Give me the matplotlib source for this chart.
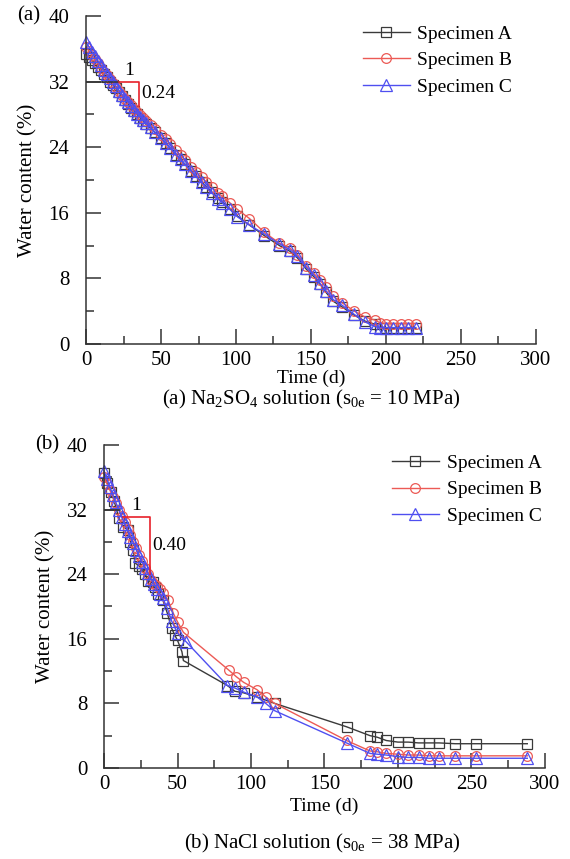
import matplotlib
matplotlib.use("Agg")
import matplotlib.pyplot as plt
from matplotlib.ticker import MultipleLocator

plt.rcParams["font.family"] = ["Liberation Serif", "DejaVu Serif"]
plt.rcParams["mathtext.fontset"] = "custom"
plt.rcParams["mathtext.rm"] = "Liberation Serif"
plt.rcParams["mathtext.it"] = "Liberation Serif:italic"

# (a) Na2SO4 solution
t_a = [0, 2, 4, 6, 8, 10, 12, 14, 16, 18, 20, 22, 24, 26, 28, 30, 32, 34, 36, 38,
       40, 43, 46, 50, 53, 56, 60, 63, 66, 70, 73, 77, 80, 84, 88, 91, 96, 101, 109,
       119, 129, 136, 141, 147, 152, 156, 160, 165, 171, 179, 186, 193, 196, 200,
       205, 210, 215, 220]
wA_a = [35.3, 35.0, 34.6, 34.2, 33.8, 33.4, 32.9, 32.5, 32.0, 31.6, 31.2, 30.7, 30.2,
        29.7, 29.3, 28.8, 28.4, 28.0, 27.6, 27.2, 26.8, 26.3, 25.8, 25.1, 24.5, 23.9,
        23.1, 22.5, 21.9, 21.1, 20.5, 19.8, 19.2, 18.5, 17.8, 17.3, 16.5, 15.6, 14.5,
        13.2, 12.0, 11.3, 10.5, 9.1, 8.2, 7.3, 6.3, 5.2, 4.5, 3.5, 2.8, 2.4, 2.0, 1.9,
        1.9, 1.9, 1.9, 1.9]
wB_a = [36.2, 35.7, 35.2, 34.7, 34.2, 33.7, 33.2, 32.8, 32.3, 31.8, 31.3, 30.8, 30.4,
        29.9, 29.5, 29.1, 28.7, 28.3, 27.9, 27.5, 27.2, 26.7, 26.2, 25.5, 25.0, 24.4,
        23.6, 23.0, 22.4, 21.6, 21.0, 20.3, 19.8, 19.1, 18.4, 18.0, 17.2, 16.4, 15.3,
        13.6, 12.3, 11.7, 10.9, 9.5, 8.6, 7.8, 6.9, 5.8, 5.0, 4.0, 3.3, 2.9, 2.6, 2.5,
        2.5, 2.5, 2.5, 2.5]
wC_a = [36.8, 36.2, 35.6, 35.1, 34.5, 34.0, 33.4, 32.9, 32.4, 31.9, 31.4, 30.9, 30.4,
        29.9, 29.5, 29.0, 28.5, 28.1, 27.7, 27.3, 26.9, 26.4, 25.8, 25.1, 24.5, 23.9,
        23.1, 22.5, 21.9, 21.1, 20.5, 19.7, 19.1, 18.4, 17.7, 17.2, 16.4, 15.5, 14.5,
        13.4, 12.2, 11.5, 10.7, 9.3, 8.4, 7.4, 6.5, 5.4, 4.7, 3.6, 2.7, 2.1, 2.0, 2.0,
        2.0, 2.0, 2.0, 2.0]

# (b) NaCl solution
tA_b = [0, 2, 5, 7, 10, 13, 16, 18, 20, 21, 24, 26, 28, 30, 33, 35, 37, 40, 43, 46,
        48, 50, 53, 54, 84, 89, 95, 104, 116, 165, 181, 186, 192, 200, 207, 214, 221,
        228, 239, 253, 288]
wA_b = [36.5, 35.3, 34.2, 33.0, 31.0, 29.9, 29.5, 28.0, 27.0, 25.4, 25.0, 24.6, 24.0,
        23.2, 23.0, 22.4, 21.5, 20.8, 19.2, 17.3, 16.5, 15.8, 14.4, 13.3, 10.2, 9.5,
        9.3, 8.8, 8.0, 5.1, 4.0, 3.8, 3.4, 3.2, 3.2, 3.1, 3.1, 3.1, 3.0, 3.0, 3.0]
tB_b = [0, 2, 4, 6, 8, 10, 12, 14, 16, 18, 20, 22, 24, 26, 28, 30, 32, 34, 36, 38, 40,
        43.5, 47, 50, 54, 85, 90, 95, 104, 110, 116, 165, 181, 186, 192, 200, 207, 214,
        221, 228, 239, 253, 288]
wB_b = [36.0, 35.2, 34.4, 33.6, 32.8, 32.0, 31.2, 30.4, 29.6, 28.8, 28.0, 27.2, 26.4,
        25.6, 24.8, 24.0, 23.3, 22.8, 22.5, 22.1, 21.7, 20.8, 19.2, 18.1, 16.8, 12.1,
        11.3, 10.6, 9.7, 8.8, 8.0, 3.4, 2.1, 2.0, 1.8, 1.7, 1.6, 1.6, 1.5, 1.5, 1.5,
        1.5, 1.5]
tC_b = [0, 2, 4, 6, 8, 10, 12, 14, 16, 18, 20, 22, 24, 26, 28, 30, 32, 34, 36, 38, 40,
        43, 46, 50, 56, 84, 89, 95, 104, 110, 116, 165, 181, 186, 192, 200, 207, 214,
        221, 228, 239, 253, 288]
wC_b = [36.8, 35.8, 34.8, 33.8, 32.9, 32.0, 31.1, 30.2, 29.4, 28.6, 27.8, 27.0, 26.2,
        25.5, 24.8, 24.1, 23.4, 22.8, 22.2, 21.6, 21.0, 19.8, 18.2, 16.7, 15.6, 10.2,
        9.9, 9.4, 8.8, 8.0, 7.1, 3.1, 1.8, 1.7, 1.6, 1.4, 1.3, 1.3, 1.2, 1.2, 1.2,
        1.2, 1.2]

labels = ["Specimen A", "Specimen B", "Specimen C"]
colors = ["#3a3a3a", "#ec5a55", "#4f4ff0"]
markers = ["s", "o", "^"]

fig = plt.figure(figsize=(5.7, 8.59), dpi=100)
ax_a = fig.add_axes([0.151, 0.5995, 0.789, 0.382])
ax_b = fig.add_axes([0.1825, 0.106, 0.7735, 0.376])


def style_axis(ax):
    ax.set_xlim(0, 300)
    ax.set_ylim(0, 40)
    ax.spines["top"].set_visible(False)
    ax.spines["right"].set_visible(False)
    for s in ["left", "bottom"]:
        ax.spines[s].set_linewidth(1.1)
        ax.spines[s].set_color("#333333")
    ax.xaxis.set_major_locator(MultipleLocator(50))
    ax.xaxis.set_minor_locator(MultipleLocator(25))
    ax.yaxis.set_major_locator(MultipleLocator(8))
    ax.yaxis.set_minor_locator(MultipleLocator(4))
    ax.tick_params(which="both", direction="in", color="#333333", width=1.1,
                   labelsize=15)
    ax.tick_params(which="major", length=11)
    ax.tick_params(which="minor", length=6)
    ax.tick_params(axis="x", pad=5)
    ax.tick_params(axis="y", pad=12)
    ax.set_xlabel("Time (d)", fontsize=14, va="center")
    ax.set_ylabel("Water content (%)", fontsize=15)


series_a = [(t_a, wA_a), (t_a, wB_a), (t_a, wC_a)]
series_b = [(tA_b, wA_b), (tB_b, wB_b), (tC_b, wC_b)]

for ax, series in [(ax_a, series_a), (ax_b, series_b)]:
    for (t, w), lab, c, m in zip(series, labels, colors, markers):
        ax.plot(t, w, color=c, lw=1.0, marker=m, markersize=7 if m != "^" else 8,
                markerfacecolor="none", markeredgecolor=c, markeredgewidth=0.9,
                label=lab, clip_on=False)
    style_axis(ax)

# label positions (axes fractions)
ax_a.yaxis.set_label_coords(-0.107, 0.5)
ax_b.yaxis.set_label_coords(-0.109, 0.5)
ax_a.xaxis.set_label_coords(0.5, -0.104)
ax_b.xaxis.set_label_coords(0.5, -0.118)

# slope triangles
ax_a.plot([0, 22], [32, 32], color="#333333", lw=1.1)
ax_a.plot([22, 35, 35], [32, 32, 29], color="#e8202a", lw=1.2)
ax_a.text(28.5, 32.3, "1", fontsize=14, ha="center", va="bottom")
ax_a.text(36.5, 30.5, "0.24", fontsize=14, ha="left", va="center")

ax_b.plot([0, 11], [32, 32], color="#333333", lw=1.1)
ax_b.plot([13, 31, 31], [31.1, 31.1, 24], color="#e8202a", lw=1.2)
ax_b.text(22, 31.4, "1", fontsize=14, ha="center", va="bottom")
ax_b.text(33, 27.5, "0.40", fontsize=14, ha="left", va="center")

leg_kw = dict(frameon=False, fontsize=14, handlelength=2.4, handletextpad=0.4,
              labelspacing=0.45, loc="upper right", borderaxespad=0)
ax_a.legend(bbox_to_anchor=(0.965, 0.995), **leg_kw)
ax_b.legend(bbox_to_anchor=(1.01, 0.995), **leg_kw)

fig.text(17 / 570, 1 - 16 / 859, "(a)", fontsize=15, ha="left", va="center")
fig.text(35 / 570, 1 - 445 / 859, "(b)", fontsize=15, ha="left", va="center")

fig.text(311 / 570, 1 - 399 / 859,
         r"(a) Na$_\mathregular{2}$SO$_\mathregular{4}$ solution (s$_\mathregular{0e}$ = 10 MPa)",
         fontsize=15, ha="center", va="center")
fig.text(322 / 570, 1 - 843 / 859,
         r"(b) NaCl solution (s$_\mathregular{0e}$ = 38 MPa)",
         fontsize=15, ha="center", va="center")

fig.savefig("out.png", dpi=100)
